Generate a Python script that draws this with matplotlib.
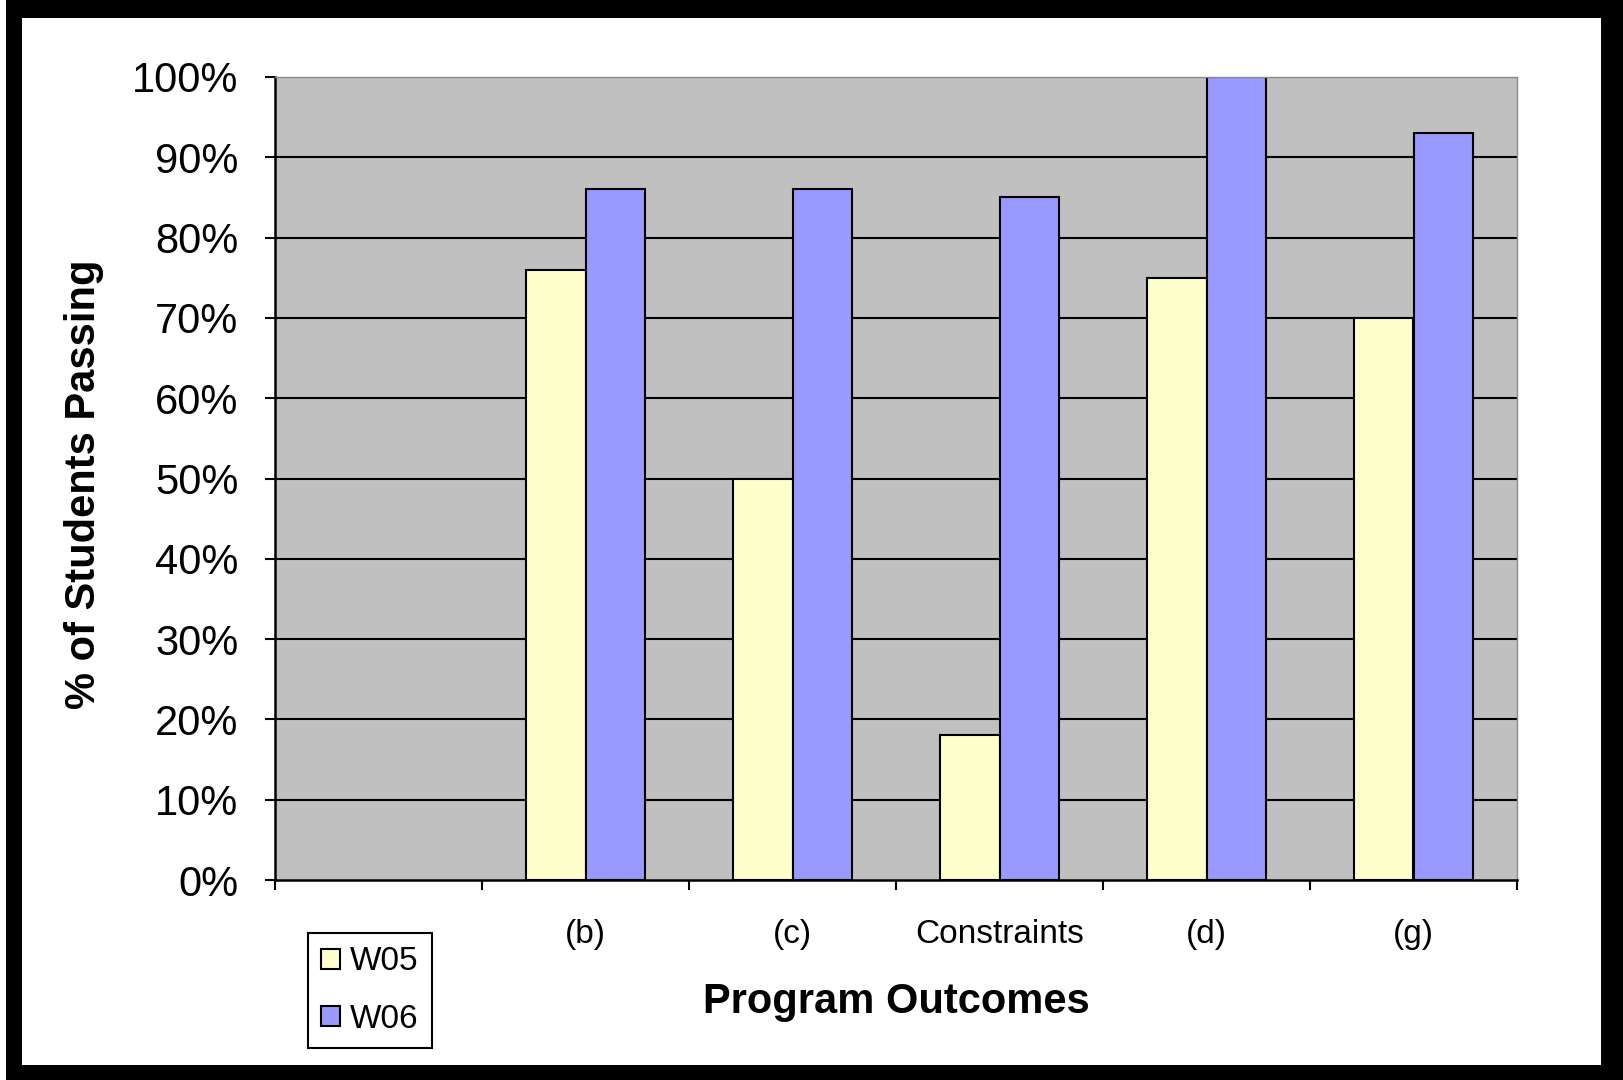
import numpy as np
import matplotlib
matplotlib.use("Agg")
import matplotlib.pyplot as plt
from matplotlib.patches import Rectangle

plt.rcParams["font.family"] = ["Liberation Sans", "DejaVu Sans"]

# pass rates per program outcome, first slot is an empty category
categories = ["", "(b)", "(c)", "Constraints", "(d)", "(g)"]
w05 = [np.nan, 0.76, 0.50, 0.18, 0.75, 0.70]
w06 = [np.nan, 0.86, 0.86, 0.85, 1.00, 0.93]
y_ticks = [0.0, 0.1, 0.2, 0.3, 0.4, 0.5, 0.6, 0.7, 0.8, 0.9, 1.0]
y_labels = ["0%", "10%", "20%", "30%", "40%", "50%", "60%", "70%", "80%", "90%", "100%"]

COL_W05 = "#FFFFCC"
COL_W06 = "#9999FF"
COL_BG = "#C0C0C0"

W, H = 1623, 1080
fig = plt.figure(figsize=(W / 100, H / 100), dpi=100, facecolor="black")

# white card inside the black frame
fig.patches.append(Rectangle((22 / W, 1 - 1065 / H), (1601 - 22) / W, (1065 - 18) / H,
                             transform=fig.transFigure, facecolor="white",
                             edgecolor="none", zorder=-10))
fig.patches.append(Rectangle((0, 0), 6 / W, 1, transform=fig.transFigure,
                             facecolor="white", edgecolor="none", zorder=-10))

ax = fig.add_axes([275 / W, 1 - 880 / H, (1517 - 275) / W, (880 - 77) / H])
ax.set_facecolor(COL_BG)

x = np.arange(len(categories))
bw = 1 / 3.5   # two bars + 150% gap
ax.bar(x - bw / 2, w05, width=bw, color=COL_W05, edgecolor="black", lw=1.5,
       label="W05", zorder=2)
ax.bar(x + bw / 2, w06, width=bw, color=COL_W06, edgecolor="black", lw=1.5,
       label="W06", zorder=2)

# horizontal gridlines (not on the frame edges)
for t in y_ticks[1:-1]:
    ax.axhline(t, color="black", lw=1.5, zorder=1)

ax.set_xlim(-0.5, len(categories) - 0.5)
ax.set_ylim(0, 1)
ax.set_yticks(y_ticks)
ax.set_yticklabels(y_labels)
ax.tick_params(axis="y", direction="out", length=7.5, width=1.5, pad=19,
               labelsize=30, colors="black")

ax.set_xticks(x)
ax.set_xticklabels(categories)
ax.set_xticks(np.arange(len(categories) + 1) - 0.5, minor=True)
ax.tick_params(axis="x", which="major", length=0, pad=28, labelsize=24)
ax.tick_params(axis="x", which="minor", direction="out", length=7.5, width=1.5)

for side in ("left", "bottom"):
    ax.spines[side].set_linewidth(1.8)
    ax.spines[side].set_color("black")
for side in ("top", "right"):
    ax.spines[side].set_linewidth(1.0)
    ax.spines[side].set_color("#8a8a8a")

ax.set_xlabel("Program Outcomes", fontsize=30, fontweight="bold", va="center")
ax.xaxis.set_label_coords(0.5, -(1002 - 880) / 803)
ax.set_ylabel("% of Students Passing", fontsize=30, fontweight="bold", va="center")
ax.yaxis.set_label_coords((84 - 275) / 1242, 1 - (484 - 77) / 803)

leg = fig.legend(loc="upper left", bbox_to_anchor=(308 / W, 1 - 933 / H),
                 bbox_transform=fig.transFigure, borderaxespad=0, fontsize=24,
                 frameon=True, fancybox=False, framealpha=1, edgecolor="black",
                 handlelength=0.55, handleheight=0.55, handletextpad=0.3,
                 labelspacing=0.8, borderpad=0.4)
leg.get_frame().set_linewidth(1.5)

fig.savefig("out.png", dpi=100, facecolor=fig.get_facecolor())
